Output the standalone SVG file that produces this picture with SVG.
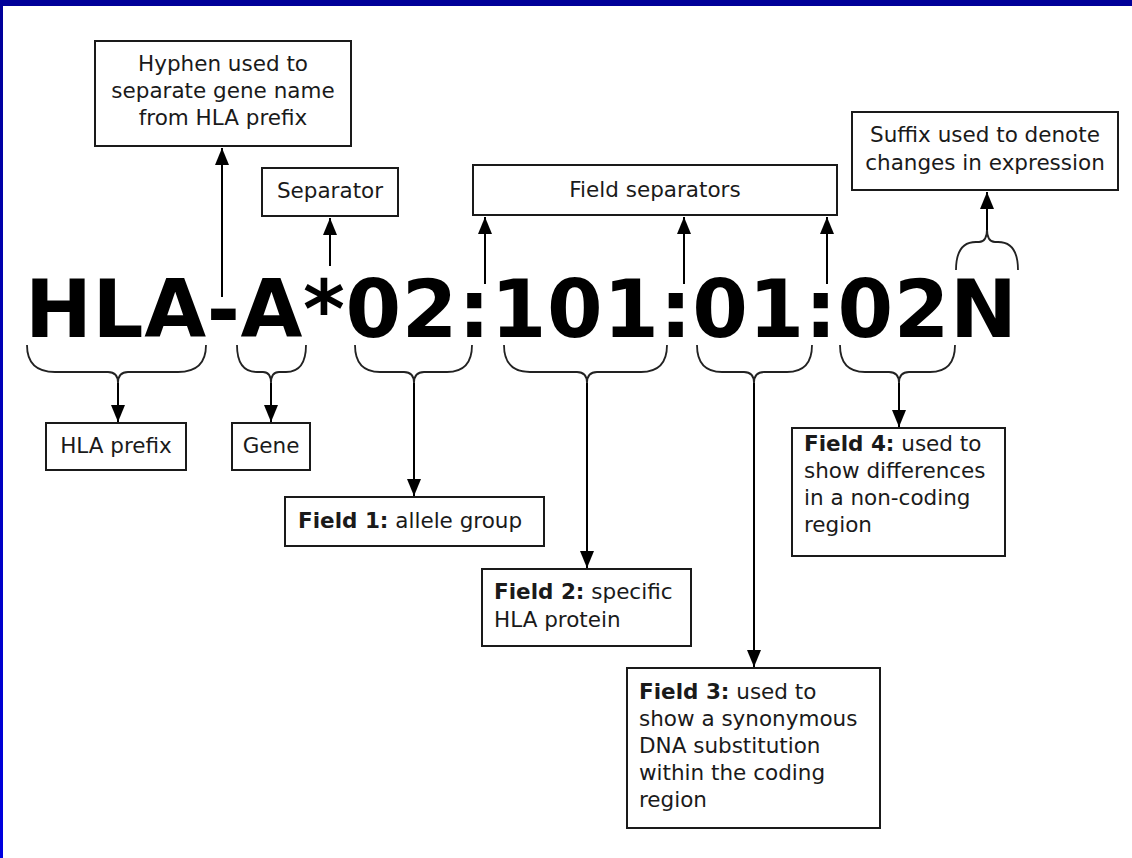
<svg xmlns="http://www.w3.org/2000/svg" width="1132" height="858" viewBox="0 0 1132 858">
<defs>
<linearGradient id="lg" x1="0" y1="0" x2="0" y2="1">
<stop offset="0" stop-color="#000099"/>
<stop offset="1" stop-color="#0000e0"/>
</linearGradient>
<marker id="ah" viewBox="0 0 17 14" refX="17" refY="7" markerWidth="17" markerHeight="14" markerUnits="userSpaceOnUse" orient="auto">
<path d="M0,0 L17,7 L0,14 z" fill="#000"/>
</marker>
<style>
.box{fill:#fff;stroke:#1a1a1a;stroke-width:2}
.t{font-family:"DejaVu Sans",Verdana,sans-serif;font-size:21.5px;fill:#1a1a1a}
.c{text-anchor:middle}
.b{font-weight:bold}
.big{font-family:"DejaVu Sans",Verdana,sans-serif;font-size:80px;font-weight:bold;fill:#000}
.ln{fill:none;stroke:#000;stroke-width:2}
.br{fill:none;stroke:#222;stroke-width:1.8}
</style>
</defs>
<rect width="1132" height="858" fill="#fff"/>
<rect x="0" y="0" width="1132" height="6" fill="#000099"/>
<rect x="0" y="0" width="3" height="858" fill="url(#lg)"/>

<g id="allele">
<text class="big" x="25" y="337" textLength="992" lengthAdjust="spacing">HLA-A*02:101:01:02N</text>
</g>

<g id="braces">
<path class="br" d="M27,345 Q27,372 55,372 L108,372 Q118,372 118,383 Q118,372 128,372 L178,372 Q206,372 206,345"/>
<path class="br" d="M237,345 Q237,372 257,372 L263,372 Q271,372 271,383 Q271,372 279,372 L286,372 Q306,372 306,345"/>
<path class="br" d="M355,345 Q355,372 380,372 L404,372 Q414,372 414,383 Q414,372 424,372 L447,372 Q472,372 472,345"/>
<path class="br" d="M504,345 Q504,372 530,372 L577,372 Q587,372 587,383 Q587,372 597,372 L641,372 Q667,372 667,345"/>
<path class="br" d="M697,345 Q697,372 722,372 L744,372 Q754,372 754,383 Q754,372 764,372 L787,372 Q812,372 812,345"/>
<path class="br" d="M840,345 Q840,372 865,372 L889,372 Q899,372 899,383 Q899,372 909,372 L930,372 Q955,372 955,345"/>
<path class="br" d="M956,270 Q956,242 976,242 L979,242 Q987,242 987,229 Q987,242 995,242 L998,242 Q1018,242 1018,270"/>
</g>

<g id="connectors">
<path class="ln" d="M222,297 L222,148" marker-end="url(#ah)"/>
<path class="ln" d="M330,266 L330,218" marker-end="url(#ah)"/>
<path class="ln" d="M485,284 L485,217" marker-end="url(#ah)"/>
<path class="ln" d="M684,284 L684,217" marker-end="url(#ah)"/>
<path class="ln" d="M827,284 L827,217" marker-end="url(#ah)"/>
<path class="ln" d="M987,230 L987,192" marker-end="url(#ah)"/>
<path class="ln" d="M118,383 L118,422" marker-end="url(#ah)"/>
<path class="ln" d="M271,383 L271,422" marker-end="url(#ah)"/>
<path class="ln" d="M414,383 L414,496" marker-end="url(#ah)"/>
<path class="ln" d="M587,383 L587,568" marker-end="url(#ah)"/>
<path class="ln" d="M754,383 L754,667" marker-end="url(#ah)"/>
<path class="ln" d="M899,383 L899,427" marker-end="url(#ah)"/>
</g>

<g id="hyphen-box">
<rect class="box" x="95" y="41" width="256" height="105"/>
<text class="t c" x="223" y="71">Hyphen used to</text>
<text class="t c" x="223" y="98">separate gene name</text>
<text class="t c" x="223" y="125">from HLA prefix</text>
</g>

<g id="separator-box">
<rect class="box" x="262" y="168" width="136" height="48"/>
<text class="t c" x="330" y="198">Separator</text>
</g>

<g id="field-separators-box">
<rect class="box" x="473" y="165" width="364" height="50"/>
<text class="t c" x="655" y="197">Field separators</text>
</g>

<g id="suffix-box">
<rect class="box" x="852" y="112" width="266" height="78"/>
<text class="t c" x="985" y="142">Suffix used to denote</text>
<text class="t c" x="985" y="170">changes in expression</text>
</g>

<g id="hla-prefix-box">
<rect class="box" x="46" y="423" width="140" height="47"/>
<text class="t c" x="116" y="453">HLA prefix</text>
</g>

<g id="gene-box">
<rect class="box" x="232" y="423" width="78" height="47"/>
<text class="t c" x="271" y="453">Gene</text>
</g>

<g id="field1-box">
<rect class="box" x="285" y="497" width="259" height="49"/>
<text class="t" x="298" y="528"><tspan class="b">Field 1:</tspan> allele group</text>
</g>

<g id="field2-box">
<rect class="box" x="482" y="569" width="209" height="77"/>
<text class="t" x="494" y="599"><tspan class="b">Field 2:</tspan> specific</text>
<text class="t" x="494" y="627">HLA protein</text>
</g>

<g id="field3-box">
<rect class="box" x="627" y="668" width="253" height="160"/>
<text class="t" x="639" y="699"><tspan class="b">Field 3:</tspan> used to</text>
<text class="t" x="639" y="726">show a synonymous</text>
<text class="t" x="639" y="753">DNA substitution</text>
<text class="t" x="639" y="780">within the coding</text>
<text class="t" x="639" y="807">region</text>
</g>

<g id="field4-box">
<rect class="box" x="792" y="428" width="213" height="128"/>
<text class="t" x="804" y="451"><tspan class="b">Field 4:</tspan> used to</text>
<text class="t" x="804" y="478">show differences</text>
<text class="t" x="804" y="505">in a non-coding</text>
<text class="t" x="804" y="532">region</text>
</g>
</svg>
